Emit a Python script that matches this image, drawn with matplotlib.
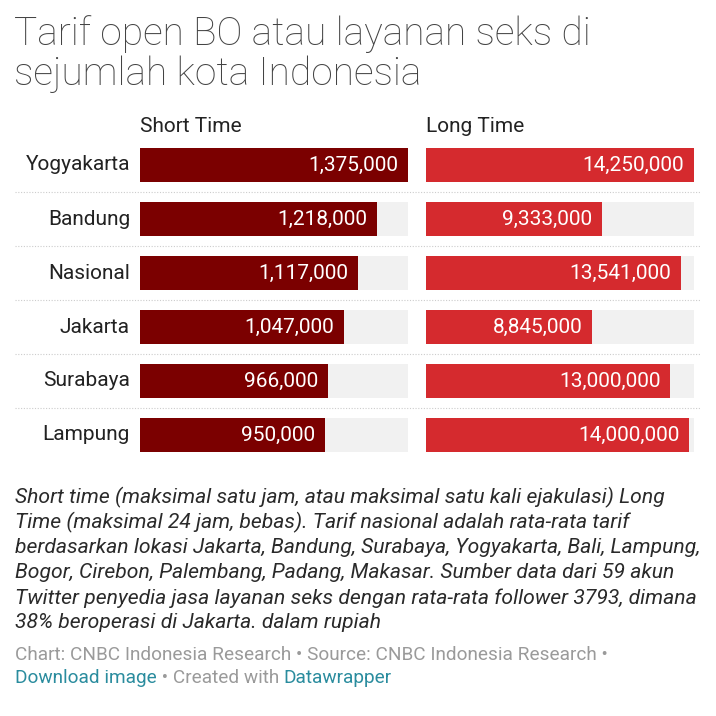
import matplotlib
matplotlib.use("Agg")
import matplotlib.pyplot as plt
from matplotlib.lines import Line2D

cities = ["Yogyakarta", "Bandung", "Nasional", "Jakarta", "Surabaya", "Lampung"]
short_time = [1375000, 1218000, 1117000, 1047000, 966000, 950000]
long_time = [14250000, 9333000, 13541000, 8845000, 13000000, 14000000]
headers = ["Short Time", "Long Time"]

title_lines = ["Tarif open BO atau layanan seks di", "sejumlah kota Indonesia"]
note_lines = [
    "Short time (maksimal satu jam, atau maksimal satu kali ejakulasi) Long",
    "Time (maksimal 24 jam, bebas). Tarif nasional adalah rata-rata tarif",
    "berdasarkan lokasi Jakarta, Bandung, Surabaya, Yogyakarta, Bali, Lampung,",
    "Bogor, Cirebon, Palembang, Padang, Makasar. Sumber data dari 59 akun",
    "Twitter penyedia jasa layanan seks dengan rata-rata follower 3793, dimana",
    "38% beroperasi di Jakarta. dalam rupiah",
]

W = H = 716
fig = plt.figure(figsize=(7.16, 7.16), dpi=100)
fig.patch.set_facecolor("white")

def fx(px):
    return px / W

def fy(py):
    return 1 - py / H

FONT = "Roboto"
top, bottom = 138, 462
axes_specs = [(140, 408, short_time, "#7b0000"), (426, 694, long_time, "#d52a2e")]
for i, (x0, x1, vals, col) in enumerate(axes_specs):
    ax = fig.add_axes([fx(x0), fy(bottom), fx(x1 - x0), (bottom - top) / H])
    vmax = max(vals)
    ypos = list(range(len(cities)))
    ax.barh(ypos, [vmax] * len(vals), height=34 / 54, color="#f1f1f1", zorder=1)
    ax.barh(ypos, vals, height=34 / 54, color=col, zorder=2)
    for y, v in zip(ypos, vals):
        ax.text(v - vmax * 0.036, y, f"{v:,}", ha="right", va="center",
                color="white", fontsize=15, family=FONT, zorder=3)
    ax.set_xlim(0, vmax)
    ax.set_ylim(len(cities) - 0.5, -0.5)
    ax.axis("off")
    fig.text(fx(x0), fy(127), headers[i], ha="left", va="center",
             fontsize=15, family=FONT, color="#222222")

for j, c in enumerate(cities):
    fig.text(fx(130), fy(165 + 54 * j), c, ha="right", va="center",
             fontsize=15, family=FONT, color="#222222")

for k in range(1, len(cities)):
    yy = fy(138 + 54 * k)
    fig.add_artist(Line2D([fx(15), fx(700)], [yy, yy], color="#cccccc",
                          lw=0.8, linestyle=(0, (1, 1.5))))

for n, line in enumerate(title_lines):
    fig.text(fx(14), fy(45 + 40 * n), line, ha="left", va="baseline", fontsize=28,
             family=FONT, fontweight="light", color="#444444")

for n, line in enumerate(note_lines):
    fig.text(fx(15), fy(497 + 25.2 * n), line, ha="left", va="center",
             fontsize=15.2, family=FONT, style="italic", color="#2a2a2a")

# source line with colored pieces
fig.text(fx(15), fy(655), "Chart: CNBC Indonesia Research \u2022 Source: CNBC Indonesia Research \u2022",
         ha="left", va="center", fontsize=13.7, family=FONT, color="#9a9a9a")
fig.canvas.draw()
renderer = fig.canvas.get_renderer()
pieces = [("Download image", "#2a8c9e"), (" \u2022 Created with ", "#9a9a9a"), ("Datawrapper", "#2a8c9e")]
xcur = 15
for txt, col in pieces:
    t = fig.text(fx(xcur), fy(678), txt, ha="left", va="center", fontsize=13.7,
                 family=FONT, color=col)
    bb = t.get_window_extent(renderer=renderer)
    xcur += bb.width

fig.savefig("out.png", dpi=100, facecolor="white")
